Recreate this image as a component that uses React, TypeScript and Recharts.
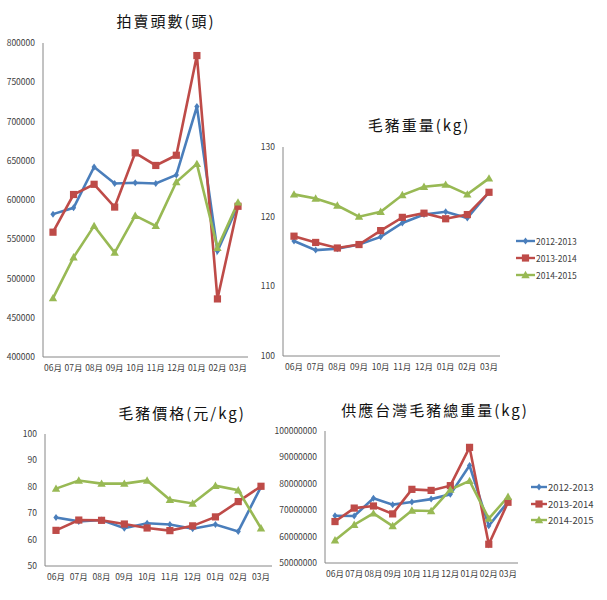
import React from 'react';
import { LineChart, Line, XAxis, YAxis } from 'recharts';

const months = ['06月', '07月', '08月', '09月', '10月', '11月', '12月', '01月', '02月', '03月'];
const seriesNames = ['2012-2013', '2013-2014', '2014-2015'];
const seriesColors = ['#4A7EBB', '#BE4B48', '#98B954'];

const auction2012 = [582000, 590000, 642000, 621000, 622000, 621000, 632000, 719000, 535000, 593000];
const auction2013 = [559000, 607000, 620000, 591000, 660000, 644000, 657000, 784000, 474000, 592000];
const auction2014 = [475000, 527000, 567000, 533000, 580000, 567000, 623000, 646000, 539000, 597000];
const auctionTicks = [400000, 450000, 500000, 550000, 600000, 650000, 700000, 750000, 800000];

const weight2012 = [116.5, 115.2, 115.4, 116.0, 117.1, 119.1, 120.3, 120.7, 119.8, 123.5];
const weight2013 = [117.2, 116.3, 115.5, 116.0, 118.0, 119.9, 120.5, 119.7, 120.3, 123.5];
const weight2014 = [123.2, 122.6, 121.6, 120.0, 120.7, 123.1, 124.3, 124.6, 123.2, 125.5];
const weightTicks = [100, 110, 120, 130];

const price2012 = [68.4, 66.9, 67.4, 64.3, 66.2, 65.7, 64.1, 65.7, 63.1, 80.0];
const price2013 = [63.5, 67.4, 67.3, 65.9, 64.4, 63.4, 65.2, 68.6, 74.4, 80.2];
const price2014 = [79.3, 82.4, 81.2, 81.2, 82.4, 75.1, 73.7, 80.4, 78.7, 64.3];
const priceTicks = [50, 60, 70, 80, 90, 100];

const supply2012 = [67900000, 67800000, 74500000, 72100000, 73100000, 74200000, 76000000, 86900000, 64100000, 73200000];
const supply2013 = [65700000, 70800000, 71600000, 68600000, 77900000, 77500000, 79300000, 93800000, 57100000, 73000000];
const supply2014 = [58600000, 64500000, 68800000, 64000000, 69900000, 69700000, 77800000, 81100000, 66800000, 75100000];
const supplyTicks = [50000000, 60000000, 70000000, 80000000, 90000000, 100000000];

const FONT = '"Noto Sans CJK TC", "Noto Sans", sans-serif';
const AXIS = '#868686';
const TEXT = '#404040';

function buildRows(a: number[], b: number[], c: number[]) {
  return months.map((m, i) => ({ month: m, s0: a[i], s1: b[i], s2: c[i] }));
}

function markerShape(kind: number, cx: number, cy: number, color: string, key?: any) {
  if (kind === 0) {
    return <path key={key} d={`M${cx},${cy - 3.5}L${cx + 2.6},${cy}L${cx},${cy + 3.5}L${cx - 2.6},${cy}Z`} fill={color} />;
  }
  if (kind === 1) {
    return <rect key={key} x={cx - 3.6} y={cy - 3.6} width={7.2} height={7.2} fill={color} />;
  }
  return <path key={key} d={`M${cx},${cy - 4.2}L${cx + 4.2},${cy + 3.2}L${cx - 4.2},${cy + 3.2}Z`} fill={color} />;
}

function makeDot(kind: number) {
  return (props: any) => {
    const { cx, cy, index } = props;
    if (cx == null || cy == null) return <g key={`d${kind}-${index}`} />;
    return markerShape(kind, cx, cy, seriesColors[kind], `d${kind}-${index}`);
  };
}

type PanelProps = {
  title: string;
  rows: any[];
  ticks: number[];
  left: number;
  top: number;
  width: number;
  height: number;
  yAxisWidth: number;
  margin: { top: number; right: number; bottom: number };
  pad: number;
  titleX: number;
  titleY: number;
};

function Panel(p: PanelProps) {
  return (
    <>
      <div
        style={{
          position: 'absolute',
          left: p.titleX - 150,
          top: p.titleY - 11,
          width: 300,
          textAlign: 'center',
          fontFamily: FONT,
          fontSize: 15,
          lineHeight: '22px',
          letterSpacing: 2,
          color: '#111',
          whiteSpace: 'nowrap',
        }}
      >
        {p.title}
      </div>
      <div style={{ position: 'absolute', left: p.left, top: p.top }}>
        <LineChart
          width={p.width}
          height={p.height}
          data={p.rows}
          margin={{ top: p.margin.top, right: p.margin.right, bottom: p.margin.bottom, left: 0 }}
        >
          <XAxis
            dataKey="month"
            interval={0}
            tickLine={false}
            axisLine={{ stroke: AXIS, strokeWidth: 1 }}
            tick={{ fill: TEXT, fontSize: 8.5, fontFamily: FONT }}
            padding={{ left: p.pad, right: p.pad }}
            height={20}
          />
          <YAxis
            domain={[p.ticks[0], p.ticks[p.ticks.length - 1]]}
            ticks={p.ticks}
            interval={0}
            allowDataOverflow
            tickLine={false}
            axisLine={{ stroke: AXIS, strokeWidth: 1 }}
            tick={{ fill: TEXT, fontSize: 8.5, fontFamily: FONT }}
            width={p.yAxisWidth}
          />
          {[0, 1, 2].map((k) => (
            <Line
              key={k}
              type="linear"
              dataKey={`s${k}`}
              name={seriesNames[k]}
              stroke={seriesColors[k]}
              strokeWidth={2.6}
              dot={makeDot(k)}
              activeDot={false}
              isAnimationActive={false}
            />
          ))}
        </LineChart>
      </div>
    </>
  );
}

function LegendBox({ left, top, gap, fontSize, lineLen }: { left: number; top: number; gap: number; fontSize: number; lineLen: number }) {
  return (
    <div style={{ position: 'absolute', left, top }}>
      {seriesNames.map((name, k) => (
        <div
          key={name}
          style={{
            position: 'absolute',
            left: 0,
            top: k * gap - 7,
            height: 14,
            display: 'flex',
            alignItems: 'center',
            whiteSpace: 'nowrap',
          }}
        >
          <svg width={lineLen} height={14} style={{ display: 'block' }}>
            <line x1={0} y1={7} x2={lineLen} y2={7} stroke={seriesColors[k]} strokeWidth={2.4} />
            {markerShape(k, lineLen / 2, 7, seriesColors[k])}
          </svg>
          <span style={{ fontFamily: FONT, fontSize, color: TEXT, marginLeft: 1 }}>{name}</span>
        </div>
      ))}
    </div>
  );
}

export default function App() {
  return (
    <div style={{ position: 'absolute', left: 0, top: 0, width: 607, height: 600, background: '#fff', overflow: 'hidden' }}>
      <Panel
        title="拍賣頭數(頭)"
        rows={buildRows(auction2012, auction2013, auction2014)}
        ticks={auctionTicks}
        left={0}
        top={0}
        width={260}
        height={380}
        yAxisWidth={43}
        margin={{ top: 43, right: 12, bottom: 3 }}
        pad={10}
        titleX={166}
        titleY={21}
      />
      <Panel
        title="毛豬重量(kg)"
        rows={buildRows(weight2012, weight2013, weight2014)}
        ticks={weightTicks}
        left={240}
        top={100}
        width={367}
        height={280}
        yAxisWidth={43}
        margin={{ top: 47, right: 107, bottom: 4 }}
        pad={11}
        titleX={419}
        titleY={125}
      />
      <LegendBox left={516} top={241} gap={17} fontSize={8.5} lineLen={19} />
      <Panel
        title="毛豬價格(元/kg)"
        rows={buildRows(price2012, price2013, price2014)}
        ticks={priceTicks}
        left={0}
        top={390}
        width={290}
        height={210}
        yAxisWidth={45}
        margin={{ top: 44, right: 18, bottom: 14 }}
        pad={11}
        titleX={182}
        titleY={413}
      />
      <Panel
        title="供應台灣毛豬總重量(kg)"
        rows={buildRows(supply2012, supply2013, supply2014)}
        ticks={supplyTicks}
        left={270}
        top={390}
        width={337}
        height={210}
        yAxisWidth={55}
        margin={{ top: 41, right: 89, bottom: 17 }}
        pad={10}
        titleX={435}
        titleY={410}
      />
      <LegendBox left={531} top={487} gap={16.5} fontSize={9.5} lineLen={16} />
    </div>
  );
}
